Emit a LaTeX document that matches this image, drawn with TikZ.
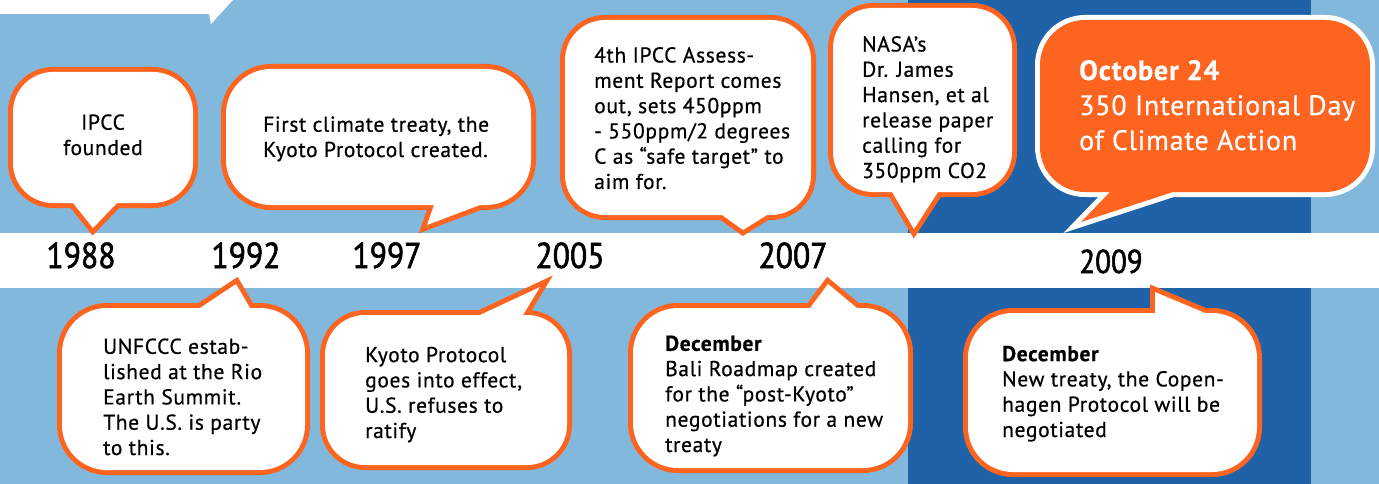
\documentclass[tikz,border=0pt]{standalone}
\usepackage{fontspec}
\setmainfont{PT Sans}[LetterSpace=3, FakeBold=0.6]
\newfontfamily\yearfont{PT Sans}[FakeBold=1.6, FakeStretch=0.88]
\definecolor{skyblue}{HTML}{82B8DC}
\definecolor{navyblue}{HTML}{2062A8}
\definecolor{bubbleorng}{HTML}{FD6420}
\begin{document}
\begin{tikzpicture}[
    x=1pt, y=-1pt,
    bubble/.style={fill=white, preaction={draw=bubbleorng, line width=10pt}},
    hotbubble/.style={fill=bubbleorng, preaction={draw=white, line width=10pt}},
    % text nodes sit on the baseline of their last line
    txt/.style={anchor=base west, align=left, inner sep=0pt,
      font=\fontsize{21.5}{25.3}\selectfont},
    hottxt/.style={anchor=base west, align=left, inner sep=0pt, text=white,
      font=\fontsize{28}{35}\selectfont},
    year/.style={anchor=base, inner sep=0pt, font=\yearfont\fontsize{36}{36}\selectfont},
  ]
  \useasboundingbox (0,0) rectangle (1379,484);

  % backdrop
  \fill[skyblue] (0,0) rectangle (1379,484);
  \fill[navyblue] (908,0) rectangle (1311,484);
  \fill[white] (0,233) rectangle (1379,288);
  \fill[white] (0,0) -- (233,0) -- (211,24) -- (209,14) -- (0,14) -- cycle;

  % years on the band
  \node[year] (y1988) at (81,268)   {1988};
  \node[year] (y1992) at (246,268)  {1992};
  \node[year] (y1997) at (387,268)  {1997};
  \node[year] (y2005) at (570,268)  {2005};
  \node[year] (y2007) at (793,268)  {2007};
  \node[year, font=\yearfont\fontsize{33}{33}\selectfont] (y2009) at (1111,273) {2009};

  % bubbles above the band
  \path[bubble] [rounded corners=40pt] (13,72) rectangle (193,203)
    [sharp corners] (73,203) -- (93,228) -- (117,203) -- cycle;
  \node[txt, anchor=base, align=center] (b1988) at (103,155) {IPCC\\founded};

  \path[bubble] [rounded corners=45pt] (226,69) rectangle (531,205)
    [sharp corners] (434,205) -- (427,225) -- (480,205) -- cycle;
  \node[txt] (b1997) at (263,157) {First climate treaty, the\\Kyoto Protocol created.};

  \path[bubble] [rounded corners=40pt] (565,20) rectangle (811,215)
    [sharp corners] (722,215) -- (743,230) -- (767,215) -- cycle;
  \node[txt] (b2007a) at (594,189)
    {4th IPCC Assess-\\ment Report comes\\out, sets 450ppm\\- 550ppm/2 degrees\\C as “safe target” to\\aim for.};

  \path[bubble] [rounded corners=40pt] (833,8) rectangle (1012,192)
    [sharp corners] (892,192) -- (914,229) -- (938,192) -- cycle;
  \node[txt] (b2008) at (862,178)
    {NASA’s\\Dr. James\\Hansen, et al\\release paper\\calling for\\350ppm CO2};

  \path[hotbubble] [rounded corners=45pt] (1040,20) rectangle (1370,192)
    [sharp corners] (1110,192) -- (1081,222) -- (1173,192) -- cycle;
  \node[hottxt] (b2009a) at (1079,150)
    {\textbf{October 24}\\350 International Day\\of Climate Action};

  % bubbles below the band
  \path[bubble] [rounded corners=45pt] (62,308) rectangle (305,470)
    [sharp corners] (200,308) -- (236,284) -- (250,308) -- cycle;
  \node[txt] (b1992) at (103,455)
    {UNFCCC estab-\\lished at the Rio\\Earth Summit.\\The U.S. is party\\to this.};

  \path[bubble] [rounded corners=40pt] (325,315) rectangle (567,465)
    [sharp corners] (480,315) -- (540,287) -- (523,315) -- cycle;
  \node[txt] (b2005) at (365,438)
    {Kyoto Protocol\\goes into effect,\\U.S. refuses to\\ratify};

  \path[bubble] [rounded corners=45pt] (633,308) rectangle (908,468)
    [sharp corners] (810,308) -- (828,284) -- (857,308) -- cycle;
  \node[txt] (b2007b) at (665,452)
    {\textbf{December}\\Bali Roadmap created\\for the “post-Kyoto”\\negotiations for a new\\treaty};

  \path[bubble] [rounded corners=45pt] (968,313) rectangle (1257,472)
    [sharp corners] (1155,313) -- (1155,292) -- (1205,313) -- cycle;
  \node[txt] (b2009b) at (1002,437)
    {\textbf{December}\\New treaty, the Copen-\\hagen Protocol will be\\negotiated};

\end{tikzpicture}
\end{document}
